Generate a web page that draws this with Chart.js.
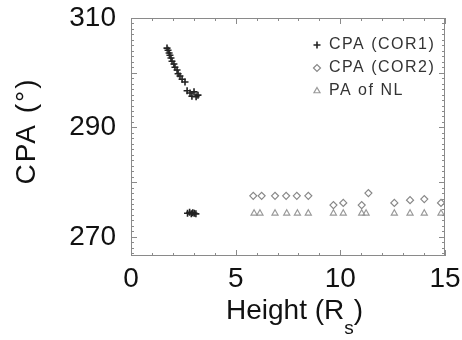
<!DOCTYPE html>
<html>
<head>
<meta charset="utf-8">
<script src="https://cdn.jsdelivr.net/npm/chart.js@4.4.1/dist/chart.umd.min.js"></script>
<style>
  html, body { margin: 0; padding: 0; background: #fff; }
</style>
</head>
<body>
<canvas id="cpaChart" width="462" height="340"></canvas>
<script>
// CPA (COR1)
const cor1Height = [1.72, 1.77, 1.82, 1.86, 1.91, 1.96, 2.05, 2.10, 2.20, 2.25, 2.34, 2.44, 2.58, 2.68, 2.82, 2.91, 3.01, 3.11, 3.20,
                    2.70, 2.80, 2.88, 2.95, 3.02, 3.10];
const cor1Cpa    = [304.5, 304.1, 303.6, 303.2, 302.7, 302.1, 301.6, 301.0, 300.5, 299.8, 299.4, 298.8, 298.3, 296.7, 296.3, 295.7, 296.5, 295.6, 295.9,
                    274.3, 274.5, 274.2, 274.4, 274.3, 274.2];

// CPA (COR2)
const cor2Height = [5.84, 6.24, 6.88, 7.41, 7.92, 8.47, 9.67, 10.14, 11.02, 11.34, 12.58, 13.33, 14.01, 14.81];
const cor2Cpa    = [277.5, 277.5, 277.5, 277.5, 277.5, 277.5, 275.8, 276.2, 275.8, 278.0, 276.2, 276.7, 276.9, 276.2];

// PA of NL
const nlHeight = [5.88, 6.16, 6.88, 7.44, 7.95, 8.47, 9.67, 10.14, 11.02, 11.23, 12.58, 13.33, 14.01, 14.81];
const nlPa     = [274.3, 274.3, 274.3, 274.3, 274.3, 274.3, 274.3, 274.3, 274.3, 274.3, 274.3, 274.3, 274.3, 274.3];

const xTicks = [0, 5, 10, 15];
const yTicks = [270, 290, 310];
const seriesNames = ['CPA (COR1)', 'CPA (COR2)', 'PA of NL'];

const toPoints = (xs, ys) => xs.map((x, i) => ({ x: x, y: ys[i] }));

const FONT = '"Liberation Sans", Arial, Helvetica, sans-serif';

// frame, minor ticks, titles and legend
const framePlugin = {
    id: 'frame',
    afterDraw(chart) {
        const ctx = chart.ctx;
        const a = chart.chartArea;
        const xs = chart.scales.x, ys = chart.scales.y;
        ctx.save();
        ctx.strokeStyle = '#8a8a8a';
        ctx.lineWidth = 1;
        ctx.strokeRect(a.left + 0.5, a.top + 0.5, a.right - a.left - 1, a.bottom - a.top - 1);

        ctx.beginPath();
        for (let v = Math.ceil(ys.min); v <= ys.max; v++) {
            const py = Math.round(ys.getPixelForValue(v)) + 0.5;
            const len = v % 10 === 0 ? 6 : 3;
            ctx.moveTo(a.left, py); ctx.lineTo(a.left + len, py);
            ctx.moveTo(a.right, py); ctx.lineTo(a.right - len, py);
        }
        for (let v = xs.min; v <= xs.max; v++) {
            const px = Math.round(xs.getPixelForValue(v)) + 0.5;
            const len = v % 5 === 0 ? 6 : 3;
            ctx.moveTo(px, a.bottom); ctx.lineTo(px, a.bottom - len);
            ctx.moveTo(px, a.top); ctx.lineTo(px, a.top + len);
        }
        ctx.stroke();

        // axis titles
        ctx.fillStyle = '#111';
        ctx.font = '28px ' + FONT;
        ctx.textBaseline = 'alphabetic';
        ctx.textAlign = 'left';
        let tx = 226;
        const ty = 319;
        ctx.fillText('Height (R', tx, ty);
        tx += ctx.measureText('Height (R').width;
        ctx.font = '19px ' + FONT;
        ctx.fillText('s', tx, ty + 15);
        tx += ctx.measureText('s').width;
        ctx.font = '28px ' + FONT;
        ctx.fillText(')', tx, ty);

        ctx.save();
        ctx.translate(27, 131);
        ctx.rotate(-Math.PI / 2);
        ctx.textAlign = 'center';
        ctx.textBaseline = 'middle';
        ctx.letterSpacing = '2px';
        ctx.fillText('CPA (°)', 0, 0);
        ctx.restore();

        // legend
        const rows = [45, 68, 91];
        ctx.font = '16px ' + FONT;
        ctx.letterSpacing = '1.5px';
        ctx.textAlign = 'left';
        ctx.textBaseline = 'middle';
        chart.data.datasets.forEach((ds, i) => {
            const style = {
                pointStyle: ds.pointStyle,
                radius: ds.pointRadius,
                borderWidth: ds.pointBorderWidth,
                rotation: 0
            };
            ctx.strokeStyle = ds.borderColor;
            ctx.fillStyle = ds.backgroundColor;
            ctx.lineWidth = ds.pointBorderWidth;
            Chart.helpers.drawPoint(ctx, style, 317, rows[i]);
            ctx.fillStyle = '#333';
            ctx.fillText(ds.label, 329, rows[i]);
        });
        ctx.restore();
    }
};

new Chart(document.getElementById('cpaChart'), {
    type: 'scatter',
    data: {
        datasets: [
            {
                label: seriesNames[0],
                data: toPoints(cor1Height, cor1Cpa),
                pointStyle: 'cross',
                pointRadius: 3.5,
                pointBorderWidth: 1.6,
                borderColor: '#222',
                backgroundColor: '#222'
            },
            {
                label: seriesNames[1],
                data: toPoints(cor2Height, cor2Cpa),
                pointStyle: 'rectRot',
                pointRadius: 3.5,
                pointBorderWidth: 1.2,
                borderColor: '#888',
                backgroundColor: 'rgba(0,0,0,0)'
            },
            {
                label: seriesNames[2],
                data: toPoints(nlHeight, nlPa),
                pointStyle: 'triangle',
                pointRadius: 3.5,
                pointBorderWidth: 1.2,
                borderColor: '#999',
                backgroundColor: 'rgba(0,0,0,0)'
            }
        ]
    },
    options: {
        responsive: false,
        animation: false,
        layout: { padding: { top: 18, right: 17, left: 0, bottom: 0 } },
        plugins: {
            legend: { display: false },
            tooltip: { enabled: false }
        },
        scales: {
            x: {
                type: 'linear',
                min: 0,
                max: 15,
                afterBuildTicks: s => { s.ticks = xTicks.map(v => ({ value: v })); },
                afterFit: s => { s.height = 84; s.paddingLeft = 0; s.paddingRight = 0; },
                grid: { display: false, drawTicks: false },
                border: { display: false },
                ticks: { color: '#111', font: { size: 28, family: FONT }, padding: 6, maxRotation: 0 }
            },
            y: {
                type: 'linear',
                min: 266.5,
                max: 310,
                afterBuildTicks: s => { s.ticks = yTicks.map(v => ({ value: v })); },
                afterFit: s => { s.width = 131; s.paddingTop = 0; s.paddingBottom = 0; },
                grid: { display: false, drawTicks: false },
                border: { display: false },
                ticks: { color: '#111', font: { size: 28, family: FONT }, padding: 15 }
            }
        }
    },
    plugins: [framePlugin]
});
</script>
</body>
</html>
